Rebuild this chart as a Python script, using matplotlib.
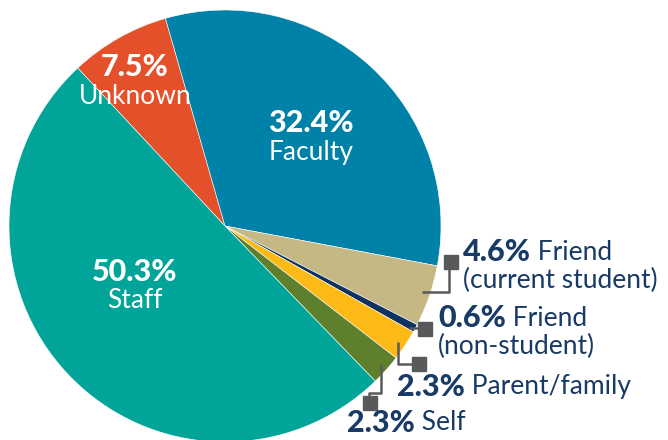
import matplotlib
matplotlib.use("Agg")
import matplotlib.pyplot as plt

# data
labels = ["Unknown", "Faculty", "Friend\n(current student)", "Friend\n(non-student)",
          "Parent/family", "Self", "Staff"]
values = [7.5, 32.4, 4.6, 0.6, 2.3, 2.3, 50.3]
colors = ["#E4502A", "#0081A7", "#C5B885", "#0E3360", "#FDBA16", "#5E7F2B", "#00A499"]

NAVY = "#173A66"
GREY = "#58595B"
plt.rcParams["font.family"] = ["Lato", "DejaVu Sans"]

W, H = 668, 440
fig = plt.figure(figsize=(W / 100, H / 100), dpi=100)
ax = fig.add_axes([0, 0, 1, 1])

cx, cy, r = 225, 226, 216
# pie drawn in a y-down frame, so go counterclockwise to appear clockwise
wedges, _ = ax.pie(values, colors=colors, startangle=-133, counterclock=True,
                   center=(cx, cy), radius=r, frame=True,
                   wedgeprops=dict(edgecolor="white", linewidth=0.4))
ax.set_xlim(0, W)
ax.set_ylim(H, 0)
ax.set_aspect("equal")
ax.axis("off")

BIG, REG = 22, 19

# labels inside big slices
inside = {0: (135, 67), 1: (311, 123), 6: (135, 272)}
for i, (x, y) in inside.items():
    ax.text(x, y, f"{values[i]}%", color="white", fontsize=BIG, fontweight="black",
            ha="center", va="center")
    ax.text(x, y + 29, labels[i], color="white", fontsize=REG,
            ha="center", va="center")

# leader lines with square end markers
def leader(pts, sq):
    xs, ys = zip(*pts)
    ax.plot(xs, ys, color=GREY, lw=1.8, solid_capstyle="butt")
    ax.plot([sq[0]], [sq[1]], marker="s", ms=9.5, color=GREY)

leader([(422, 292), (449, 292), (449, 266)], (451, 262))
leader([(409, 328), (422, 328)], (425, 329))
leader([(398, 342), (398, 364), (414, 364)], (419, 364))
leader([(381, 364), (381, 393), (369, 393), (369, 398)], (370, 403))

outside = {2: (463, 252), 3: (438, 318), 4: (397, 387), 5: (347, 423)}
for i, (x, y) in outside.items():
    first, *rest = labels[i].split("\n")
    t = ax.text(x, y, f"{values[i]}%", color=NAVY, fontsize=BIG, fontweight="black",
                ha="left", va="center")
    ax.annotate(" " + first, xycoords=t, xy=(1, 0.5), va="center", ha="left",
                color=NAVY, fontsize=REG)
    if rest:
        ax.text(x, y + 28, rest[0], color=NAVY, fontsize=REG,
                ha="left", va="center")

fig.savefig("out.png", dpi=100)
